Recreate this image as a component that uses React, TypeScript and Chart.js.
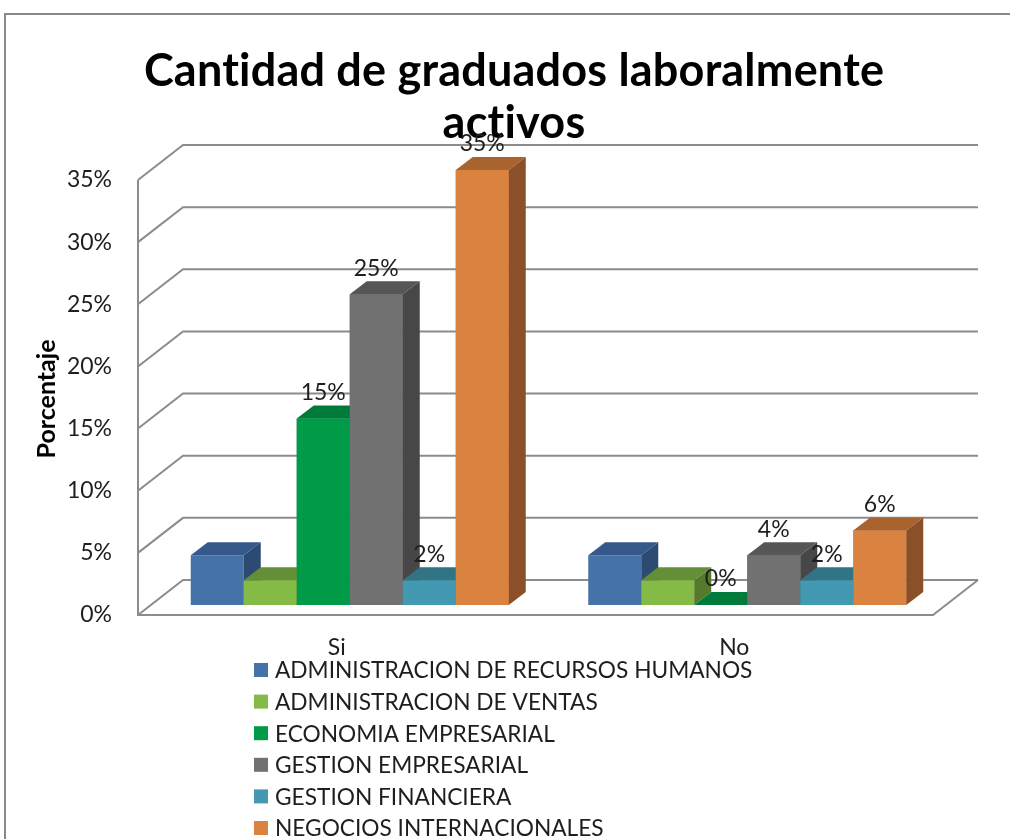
import React, { useEffect, useRef } from 'react';
import { Chart, registerables } from 'chart.js';

Chart.register(...registerables);

// ---------- data ----------
const chartTitle = ['Cantidad de graduados laboralmente', 'activos'];
const yAxisTitle = 'Porcentaje';
const categories = ['Si', 'No'];
const seriesNames = [
  'ADMINISTRACION DE RECURSOS HUMANOS',
  'ADMINISTRACION DE VENTAS',
  'ECONOMIA EMPRESARIAL',
  'GESTION EMPRESARIAL',
  'GESTION FINANCIERA',
  'NEGOCIOS INTERNACIONALES',
];
const recursosHumanos = [0.04, 0.04];
const ventas = [0.02, 0.02];
const economia = [0.15, 0.0];
const gestionEmpresarial = [0.25, 0.04];
const gestionFinanciera = [0.02, 0.02];
const negocios = [0.35, 0.06];
const seriesValues = [recursosHumanos, ventas, economia, gestionEmpresarial, gestionFinanciera, negocios];
const showLabel = [false, false, true, true, true, true];
const yTicks = [0, 0.05, 0.1, 0.15, 0.2, 0.25, 0.3, 0.35];

// ---------- styles ----------
const frontColors = ['#4572A7', '#84BB47', '#009B48', '#717171', '#4398B2', '#DA8240'];
const topColors = ['#34598A', '#658F36', '#007A38', '#565656', '#307485', '#A8632F'];
const sideColors = ['#2C4A72', '#557A2D', '#00682F', '#474747', '#2A6575', '#8B5027'];
const GRID = '#8c8c8c';
const TEXT = '#1e1e1e';
const FONT = 'Lato, "Open Sans", sans-serif';

const DX = 17, DY = -13; // bar depth
const FX = -13, FY = 10; // front plane from bar plane
const BX = 32, BY = -25; // back wall from bar plane

const decorPlugin = {
  id: 'decor',
  beforeDraw(chart: any) {
    const { ctx } = chart;
    ctx.save();
    ctx.strokeStyle = '#888888';
    ctx.lineWidth = 2;
    ctx.strokeRect(5, 14, 1300, 1300);
    // title
    ctx.fillStyle = '#000';
    ctx.font = `bold 45px ${FONT}`;
    ctx.textAlign = 'center';
    ctx.textBaseline = 'alphabetic';
    if ('letterSpacing' in ctx) (ctx as any).letterSpacing = '0.2px';
    ctx.fillText(chartTitle[0], 514, 86);
    ctx.fillText(chartTitle[1], 514, 138);
    if ('letterSpacing' in ctx) (ctx as any).letterSpacing = '0px';
    // y title
    ctx.translate(47, 399);
    ctx.rotate(-Math.PI / 2);
    ctx.font = `bold 25px ${FONT}`;
    ctx.textBaseline = 'middle';
    ctx.fillText(yAxisTitle, 0, 0);
    ctx.restore();
  },
  beforeDatasetsDraw(chart: any) {
    const { ctx, chartArea, scales } = chart;
    const { left, right } = chartArea;
    const y = scales.y;
    ctx.save();
    ctx.strokeStyle = GRID;
    ctx.lineWidth = 2;
    ctx.lineJoin = 'miter';
    yTicks.forEach((v) => {
      const py = y.getPixelForValue(v);
      ctx.beginPath();
      ctx.moveTo(left + FX, py + FY);
      ctx.lineTo(left + BX, py + BY);
      ctx.lineTo(right + BX, py + BY);
      ctx.stroke();
    });
    const y0 = y.getPixelForValue(0);
    const yTop = y.getPixelForValue(yTicks[yTicks.length - 1]);
    ctx.beginPath();
    ctx.moveTo(left + FX, yTop + FY);
    ctx.lineTo(left + FX, y0 + FY);
    ctx.lineTo(right + FX, y0 + FY);
    ctx.lineTo(right + BX, y0 + BY);
    ctx.stroke();
    ctx.restore();
  },
  afterDatasetsDraw(chart: any) {
    const { ctx } = chart;
    const n = seriesValues.length;
    ctx.save();
    categories.forEach((_, c) => {
      for (let i = 0; i < n; i++) {
        const el: any = chart.getDatasetMeta(i).data[c];
        const l = el.x - el.width / 2;
        const r = el.x + el.width / 2;
        const t = el.y;
        const b = el.base;
        // top face
        ctx.fillStyle = topColors[i];
        ctx.beginPath();
        ctx.moveTo(l, t);
        ctx.lineTo(r, t);
        ctx.lineTo(r + DX, t + DY);
        ctx.lineTo(l + DX, t + DY);
        ctx.closePath();
        ctx.fill();
        // side face
        ctx.fillStyle = sideColors[i];
        ctx.beginPath();
        ctx.moveTo(r, t);
        ctx.lineTo(r + DX, t + DY);
        ctx.lineTo(r + DX, b + DY);
        ctx.lineTo(r, b);
        ctx.closePath();
        ctx.fill();
        if (i + 1 < n) {
          chart.getDatasetMeta(i + 1).data[c].draw(ctx);
        }
      }
    });
    // data labels
    ctx.fillStyle = TEXT;
    ctx.font = `23px ${FONT}`;
    ctx.textAlign = 'center';
    ctx.textBaseline = 'middle';
    seriesValues.forEach((vals, i) => {
      if (!showLabel[i]) return;
      const meta = chart.getDatasetMeta(i);
      vals.forEach((v, c) => {
        const el: any = meta.data[c];
        ctx.fillText(`${Math.round(v * 100)}%`, el.x, el.y - 26);
      });
    });
    ctx.restore();
  },
  afterDraw(chart: any) {
    const { ctx } = chart;
    ctx.save();
    ctx.font = `22.7px ${FONT}`;
    ctx.textBaseline = 'middle';
    ctx.textAlign = 'left';
    seriesNames.forEach((name, i) => {
      const cy = 670 + i * 31.6;
      ctx.fillStyle = frontColors[i];
      ctx.fillRect(254, cy - 7, 14, 14);
      ctx.fillStyle = TEXT;
      ctx.fillText(name, 275, cy + 1);
    });
    ctx.restore();
  },
};

export default function App() {
  const ref = useRef<HTMLCanvasElement | null>(null);
  useEffect(() => {
    if (!ref.current) return;
    const chart = new Chart(ref.current, {
      type: 'bar',
      data: {
        labels: categories,
        datasets: seriesValues.map((vals, i) => ({
          label: seriesNames[i],
          data: vals,
          backgroundColor: frontColors[i],
          borderWidth: 0,
          categoryPercentage: 0.8,
          barPercentage: 1.0,
        })),
      },
      options: {
        responsive: false,
        animation: false,
        layout: { padding: { left: 0, top: 170, right: 64, bottom: 174 } },
        plugins: {
          legend: { display: false },
          title: { display: false },
          tooltip: { enabled: false },
        },
        scales: {
          x: {
            grid: { display: false, drawTicks: false },
            border: { display: false },
            ticks: {
              color: TEXT,
              font: { family: FONT, size: 23 },
              padding: 29,
              labelOffset: -13,
            },
            afterFit: (s: any) => { s.height = 60; },
          },
          y: {
            min: 0,
            max: 0.35,
            grid: { display: false, drawTicks: false },
            border: { display: false },
            ticks: {
              stepSize: 0.05,
              color: TEXT,
              font: { family: FONT, size: 23 },
              padding: 39,
              labelOffset: 10,
              callback: (v: any) => `${Math.round(Number(v) * 100)}%`,
            },
            afterFit: (s: any) => { s.width = 151; },
          },
        },
      },
      plugins: [decorPlugin],
    });
    return () => chart.destroy();
  }, []);
  return (
    <div style={{ position: 'absolute', left: 0, top: 0, width: 1010, height: 839, background: '#fff' }}>
      <canvas ref={ref} width={1010} height={839} style={{ display: 'block' }} />
    </div>
  );
}
